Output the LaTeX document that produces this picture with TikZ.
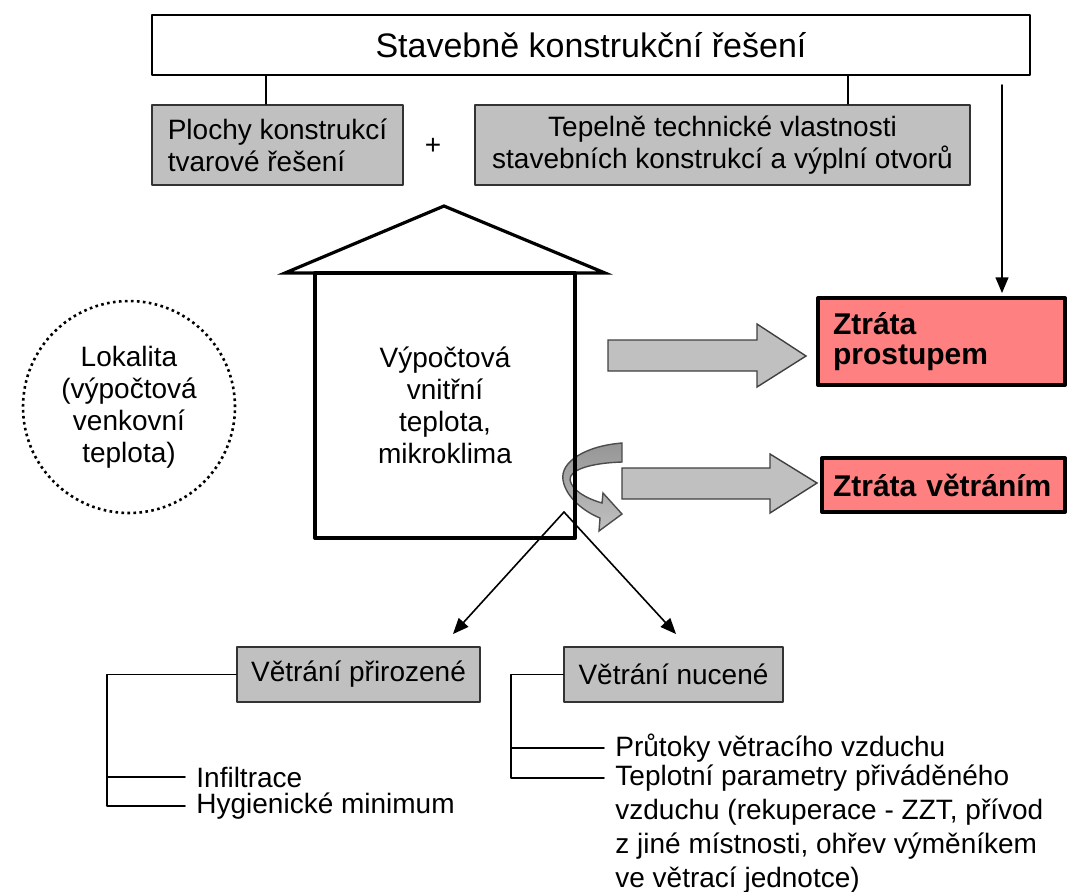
\documentclass[tikz,border=0pt]{standalone}
\usepackage{fontspec}
\setmainfont{Liberation Sans}
\usetikzlibrary{arrows}
\definecolor{boxgray}{RGB}{192,192,192}
\definecolor{curldark}{RGB}{150,150,150}
\definecolor{lossred}{RGB}{255,128,128}

\begin{document}
\begin{tikzpicture}[line cap=round,line join=round,>=triangle 45,x=0.5pt,y=-0.5pt,
    txt/.style={font=\fontsize{14}{16}\selectfont},
    graybox/.style={draw=black!80,fill=boxgray,line width=1pt,inner sep=0pt,txt},
    lossbox/.style={draw=black,fill=lossred,line width=2pt,inner ysep=0pt,align=left,
        font=\fontsize{15}{15}\selectfont\bfseries},
    blockarrow/.style={draw=black!75,fill=boxgray,line width=0.7pt,line join=miter},
    item/.style={anchor=west,inner xsep=5.5pt,inner ysep=0pt,txt},
    thin/.style={line width=0.8pt}]
    \useasboundingbox (0,0) rectangle (1070,891);
    % top part
    \node[draw,line width=1pt,minimum width=439pt,minimum height=30pt,inner sep=0pt,
        font=\fontsize{17}{20}\selectfont] (title) at (591,45) {Stavebně konstrukční řešení};
    \node[graybox,minimum width=125.5pt,minimum height=40pt,align=left] (plochy) at (277.5,145)
        {Plochy konstrukcí\\tvarové řešení};
    \node[graybox,minimum width=247.5pt,minimum height=40pt,align=center] (tepelne) at (722.5,145)
        {Tepelně technické vlastnosti\\stavebních konstrukcí a výplní otvorů};
    \node[txt] (plus) at (433,146) {+};
    \draw[thin] ([xshift=-5.75pt]plochy.north) -- ([xshift=-5.75pt]plochy.north |- title.south);
    \draw[thin] ([xshift=62.75pt]tepelne.north) -- ([xshift=62.75pt]tepelne.north |- title.south);
    % losses
    \node[lossbox,minimum height=43.5pt,text width=108.5pt,inner xsep=7.5pt] (prostup) at (941.5,341.5)
        {Ztráta\\prostupem};
    \node[lossbox,minimum height=27pt,text width=110.5pt,inner xsep=5.5pt] (vetrani) at (943.5,485)
        {Ztráta větráním};
    \coordinate (drop) at (1002,85);
    \draw[->,thin,shorten >=1.5pt] (drop) -- (drop |- prostup.north);
    \filldraw[blockarrow] (608,340) -- (757,340) -- (757,324) -- (806,356) -- (757,387) -- (757,371) -- (608,371) -- cycle;
    \filldraw[blockarrow] (622,468) -- (770,468) -- (770,454) -- (817,483) -- (770,513) -- (770,499) -- (622,499) -- cycle;
    % curved arrow
    \shadedraw[top color=curldark,bottom color=boxgray,draw=black!70,line width=0.7pt,line join=miter]
        (622,443) .. controls (585,446) and (560,462) .. (563,480)
        .. controls (566,498) and (585,512) .. (600,518) -- (599,531) -- (622,514) -- (603,493) -- (602,503)
        .. controls (585,498) and (572,490) .. (570,480) .. controls (569,470) and (590,463) .. (622,462) -- cycle;
    % house
    \node[draw,line width=2pt,minimum width=130pt,minimum height=132.5pt,inner sep=0pt,align=center,txt]
        (room) at (445,405.5) {Výpočtová\\vnitřní\\teplota,\\mikroklima};
    \draw[line width=1.6pt,line join=miter] (285,273) -- (444,206) -- (605,273) -- cycle;
    \node[draw,circle,line width=1.3pt,dash pattern=on 1.3pt off 1.7pt,line cap=butt,minimum size=106pt,
        inner sep=0pt,align=center,txt] (lokalita) at (129,407) {Lokalita\\(výpočtová\\venkovní\\teplota)};
    % ventilation
    \node[graybox,minimum width=121.5pt,minimum height=27.5pt] (vp) at (358.5,674.5) {Větrání přirozené};
    \node[graybox,minimum width=109.5pt,minimum height=27.5pt] (vn) at (673.5,674.5) {Větrání nucené};
    \coordinate (split) at (564,512);
    \draw[->,thin] (split) -- ([xshift=-14pt,yshift=6pt]vp.north east);
    \draw[->,thin] (split) -- ([xshift=56.5pt,yshift=6pt]vn.north west);
    \node[item] (infil) at (185,777) {Infiltrace};
    \node[item] (hyg) at (185,806) {Hygienické minimum};
    \draw[thin] (vp.west) -- (107,674.5) |- (hyg.west);
    \draw[thin] (107,777) -- (infil.west);
    \node[item] (prutok) at (604,748) {Průtoky větracího vzduchu};
    \node[item,anchor=north west,align=left,font=\fontsize{14}{17}\selectfont] (tepl) at (604,764)
        {Teplotní parametry přiváděného\\vzduchu (rekuperace - ZZT, přívod\\z jiné místnosti, ohřev výměníkem\\ve větrací jednotce)};
    \draw[thin] (vn.west) -- (511,674.5) |- ([yshift=-7pt]tepl.north west);
    \draw[thin] (511,748) -- (prutok.west);
\end{tikzpicture}
\end{document}
